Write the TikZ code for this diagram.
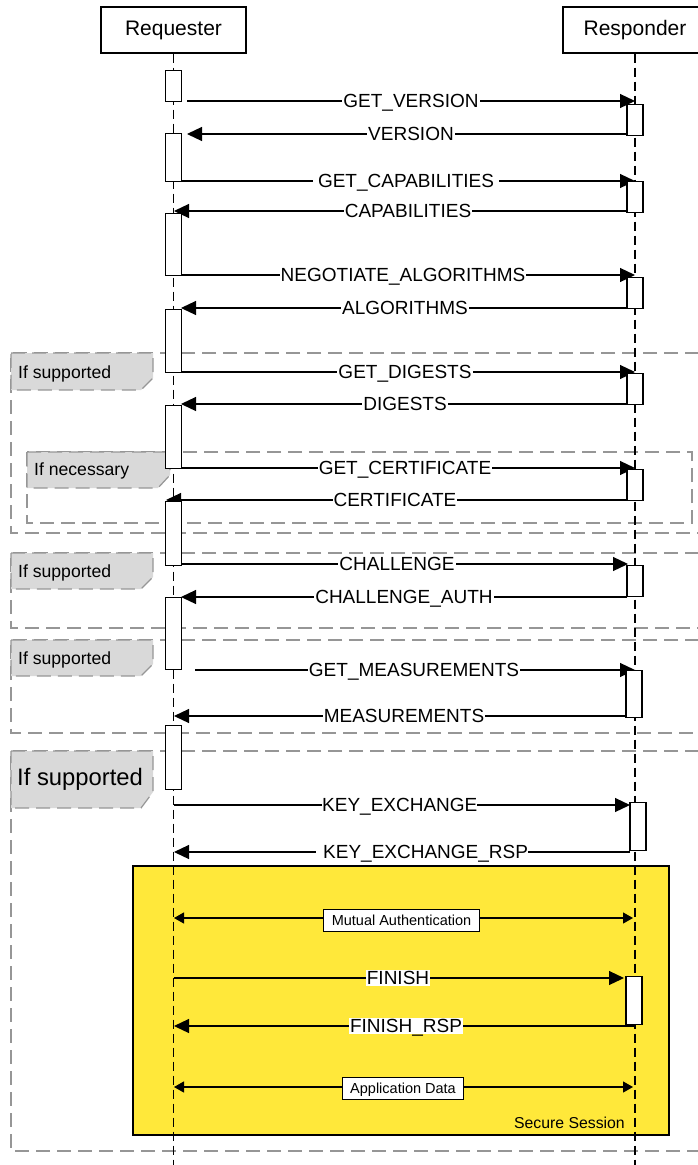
\documentclass[tikz,border=0pt]{standalone}
\usepackage{fontspec}
\setmainfont{Liberation Sans}
\usetikzlibrary{arrows.meta}
\definecolor{tabgray}{RGB}{217,217,217}
\definecolor{framegray}{RGB}{150,150,150}
\definecolor{secyellow}{RGB}{255,232,58}
\begin{document}
\begin{tikzpicture}[x=1pt,y=-1pt,
  hdr/.style={draw=black, line width=1.2pt, fill=white, minimum height=46pt, inner sep=0pt, font=\fontsize{21}{21}\selectfont},
  lifeline/.style={draw=black, line width=1.7pt, dash pattern=on 9pt off 5pt},
  msg/.style={draw=black, line width=1.2pt},
  arr/.style={-{Triangle[length=15pt,width=14pt]}},
  sarr/.style={{Triangle[length=10pt,width=11pt]}-{Triangle[length=10pt,width=11pt]}},
  lbl/.style={fill=white, inner xsep=1pt, inner ysep=1pt, text height=13.8pt, text depth=0pt, font=\fontsize{19}{19}\selectfont},
  boxlbl/.style={draw=black, line width=1pt, fill=white, inner xsep=8pt, minimum height=22pt, inner ysep=0pt, text height=10.5pt, text depth=0pt, font=\fontsize{14.5}{14.5}\selectfont},
  act/.style={draw=black, fill=white, line width=1.1pt, minimum width=16pt, inner sep=0pt, anchor=north},
  frm/.style={draw=framegray, line width=1.2pt, dash pattern=on 14pt off 7pt},
  tabst/.style={draw=framegray, fill=tabgray, line width=1.2pt, dash pattern=on 14pt off 7pt},
  tabtxt/.style={anchor=west, inner sep=0pt, text height=12.6pt, text depth=0pt, font=\fontsize{17.6}{17.6}\selectfont}
]
\useasboundingbox (0,0) rectangle (698,1165);

% ---------- frames ----------
\draw[frm] (720,353) -- (11,353) -- (11,533) -- (720,533);
\draw[frm] (27,452) rectangle (692,523);
\draw[frm] (720,553) -- (11,553) -- (11,628) -- (720,628);
\draw[frm] (720,640) -- (11,640) -- (11,733) -- (720,733);
\draw[frm] (720,751) -- (11,751) -- (11,1151) -- (720,1151);

% tabs
\draw[tabst] (11,353) -- (153,353) -- (153,378) -- (141,390) -- (11,390) -- cycle;
\node[tabtxt] (t1) at (18,372) {If supported};
\draw[tabst] (27,452) -- (170,452) -- (170,475) -- (158,488) -- (27,488) -- cycle;
\node[tabtxt] (t2) at (34,469) {If necessary};
\draw[tabst] (11,553) -- (153,553) -- (153,577) -- (141,589) -- (11,589) -- cycle;
\node[tabtxt] (t3) at (18,571) {If supported};
\draw[tabst] (11,640) -- (153,640) -- (153,664) -- (141,676) -- (11,676) -- cycle;
\node[tabtxt] (t4) at (18,658) {If supported};
\draw[tabst] (11,751) -- (153,751) -- (153,792) -- (141,808) -- (11,808) -- cycle;
\node[tabtxt, text height=17pt, font=\fontsize{23.8}{23.8}\selectfont] (t5) at (17,777) {If supported};

% secure session
\draw[draw=black, line width=2.5pt, fill=secyellow] (133,866) rectangle (669,1135);
\node[anchor=east, inner sep=0pt, text height=11.3pt, text depth=0pt, font=\fontsize{15.8}{15.8}\selectfont] (ss) at (625,1123) {Secure Session};

% ---------- headers and lifelines ----------
\node[hdr, minimum width=145pt] (req) at (173.5,30) {Requester};
\node[hdr, minimum width=144pt] (rsp) at (635,30) {Responder};
\coordinate (reqend) at (173.5,1165);
\coordinate (rspend) at (635,1165);
\draw[lifeline] (req.south) -- (reqend);
\draw[lifeline] (rsp.south) -- (rspend);

% ---------- messages ----------
\coordinate (m1s) at (187,101);  \coordinate (m1e) at (635,101);
\draw[msg,arr] (m1s) -- (m1e);
\node[lbl] (m1) at (411,101) {GET\_VERSION};

\coordinate (m2s) at (627,134);  \coordinate (m2e) at (187,134);
\draw[msg,arr] (m2s) -- (m2e);
\node[lbl] (m2) at (411,134) {VERSION};

\coordinate (m3s) at (174,181);  \coordinate (m3e) at (635,181);
\draw[msg,arr] (m3s) -- (m3e);
\node[lbl, inner xsep=5pt] (m3) at (406,181) {GET\_CAPABILITIES};

\coordinate (m4s) at (627,211);  \coordinate (m4e) at (174,211);
\draw[msg,arr] (m4s) -- (m4e);
\node[lbl] (m4) at (408,211) {CAPABILITIES};

\coordinate (m5s) at (174,275);  \coordinate (m5e) at (635,275);
\draw[msg,arr] (m5s) -- (m5e);
\node[lbl] (m5) at (403,275) {NEGOTIATE\_ALGORITHMS};

\coordinate (m6s) at (627,308);  \coordinate (m6e) at (181,308);
\draw[msg,arr] (m6s) -- (m6e);
\node[lbl] (m6) at (405,308) {ALGORITHMS};

\coordinate (m7s) at (174,372);  \coordinate (m7e) at (635,372);
\draw[msg,arr] (m7s) -- (m7e);
\node[lbl] (m7) at (405,372) {GET\_DIGESTS};

\coordinate (m8s) at (627,404);  \coordinate (m8e) at (181,404);
\draw[msg,arr] (m8s) -- (m8e);
\node[lbl] (m8) at (405,404) {DIGESTS};

\coordinate (m9s) at (174,468);  \coordinate (m9e) at (635,468);
\draw[msg,arr] (m9s) -- (m9e);
\node[lbl] (m9) at (405,468) {GET\_CERTIFICATE};

\coordinate (m10s) at (627,500); \coordinate (m10e) at (166,500);
\draw[msg,arr] (m10s) -- (m10e);
\node[lbl] (m10) at (395,500) {CERTIFICATE};

\coordinate (m11s) at (174,564); \coordinate (m11e) at (628,564);
\draw[msg,arr] (m11s) -- (m11e);
\node[lbl] (m11) at (397,564) {CHALLENGE};

\coordinate (m12s) at (627,597); \coordinate (m12e) at (181,597);
\draw[msg,arr] (m12s) -- (m12e);
\node[lbl] (m12) at (404,597) {CHALLENGE\_AUTH};

\coordinate (m13s) at (195,670); \coordinate (m13e) at (635,670);
\draw[msg,arr] (m13s) -- (m13e);
\node[lbl] (m13) at (414,670) {GET\_MEASUREMENTS};

\coordinate (m14s) at (626,716); \coordinate (m14e) at (174,716);
\draw[msg,arr] (m14s) -- (m14e);
\node[lbl] (m14) at (404,716) {MEASUREMENTS};

\coordinate (m15s) at (174,805); \coordinate (m15e) at (630,805);
\draw[msg,arr] (m15s) -- (m15e);
\node[lbl, anchor=west, inner xsep=0pt] (m15) at (322,805) {KEY\_EXCHANGE\hspace{8pt}};

\coordinate (m16s) at (630,852); \coordinate (m16e) at (174,852);
\draw[msg,arr] (m16s) -- (m16e);
\node[lbl, anchor=west, inner xsep=0pt] (m16) at (316,852) {\hspace{7pt}KEY\_EXCHANGE\_RSP\hspace{13pt}};

\coordinate (m17s) at (174,918); \coordinate (m17e) at (633,918);
\draw[msg,sarr] (m17s) -- (m17e);
\node[boxlbl] (m17) at (401.5,920) {Mutual Authentication};

\coordinate (m18s) at (174,978); \coordinate (m18e) at (624,978);
\draw[msg,arr] (m18s) -- (m18e);
\node[lbl] (m18) at (398,978) {FINISH};

\coordinate (m19s) at (635,1026); \coordinate (m19e) at (174,1026);
\draw[msg,arr] (m19s) -- (m19e);
\node[lbl] (m19) at (406,1026) {FINISH\_RSP};

\coordinate (m20s) at (174,1087); \coordinate (m20e) at (633,1087);
\draw[msg,sarr] (m20s) -- (m20e);
\node[boxlbl] (m20) at (403,1088) {Application Data};

% ---------- activation boxes ----------
\node[act, minimum height=31pt] (a1) at (173.5,70) {};
\node[act, minimum height=48pt] (a2) at (173.5,133) {};
\node[act, minimum height=62pt] (a3) at (173.5,213) {};
\node[act, minimum height=63pt] (a4) at (173.5,309) {};
\node[act, minimum height=63pt] (a5) at (173.5,405) {};
\node[act, minimum height=64pt] (a6) at (173.5,501) {};
\node[act, minimum height=72pt] (a7) at (173.5,597) {};
\node[act, minimum height=64pt] (a8) at (173.5,725) {};

\node[act, minimum height=31pt] (b1) at (635,104) {};
\node[act, minimum height=31pt] (b2) at (635,181) {};
\node[act, minimum height=31pt] (b3) at (635,277) {};
\node[act, minimum height=31pt] (b4) at (635,373) {};
\node[act, minimum height=31pt] (b5) at (635,469) {};
\node[act, minimum height=31pt] (b6) at (635,565) {};
\node[act, minimum height=47pt] (b7) at (634,670) {};
\node[act, minimum height=48pt] (b8) at (638,802) {};
\node[act, minimum height=48pt] (b9) at (634,976) {};
\end{tikzpicture}
\end{document}
